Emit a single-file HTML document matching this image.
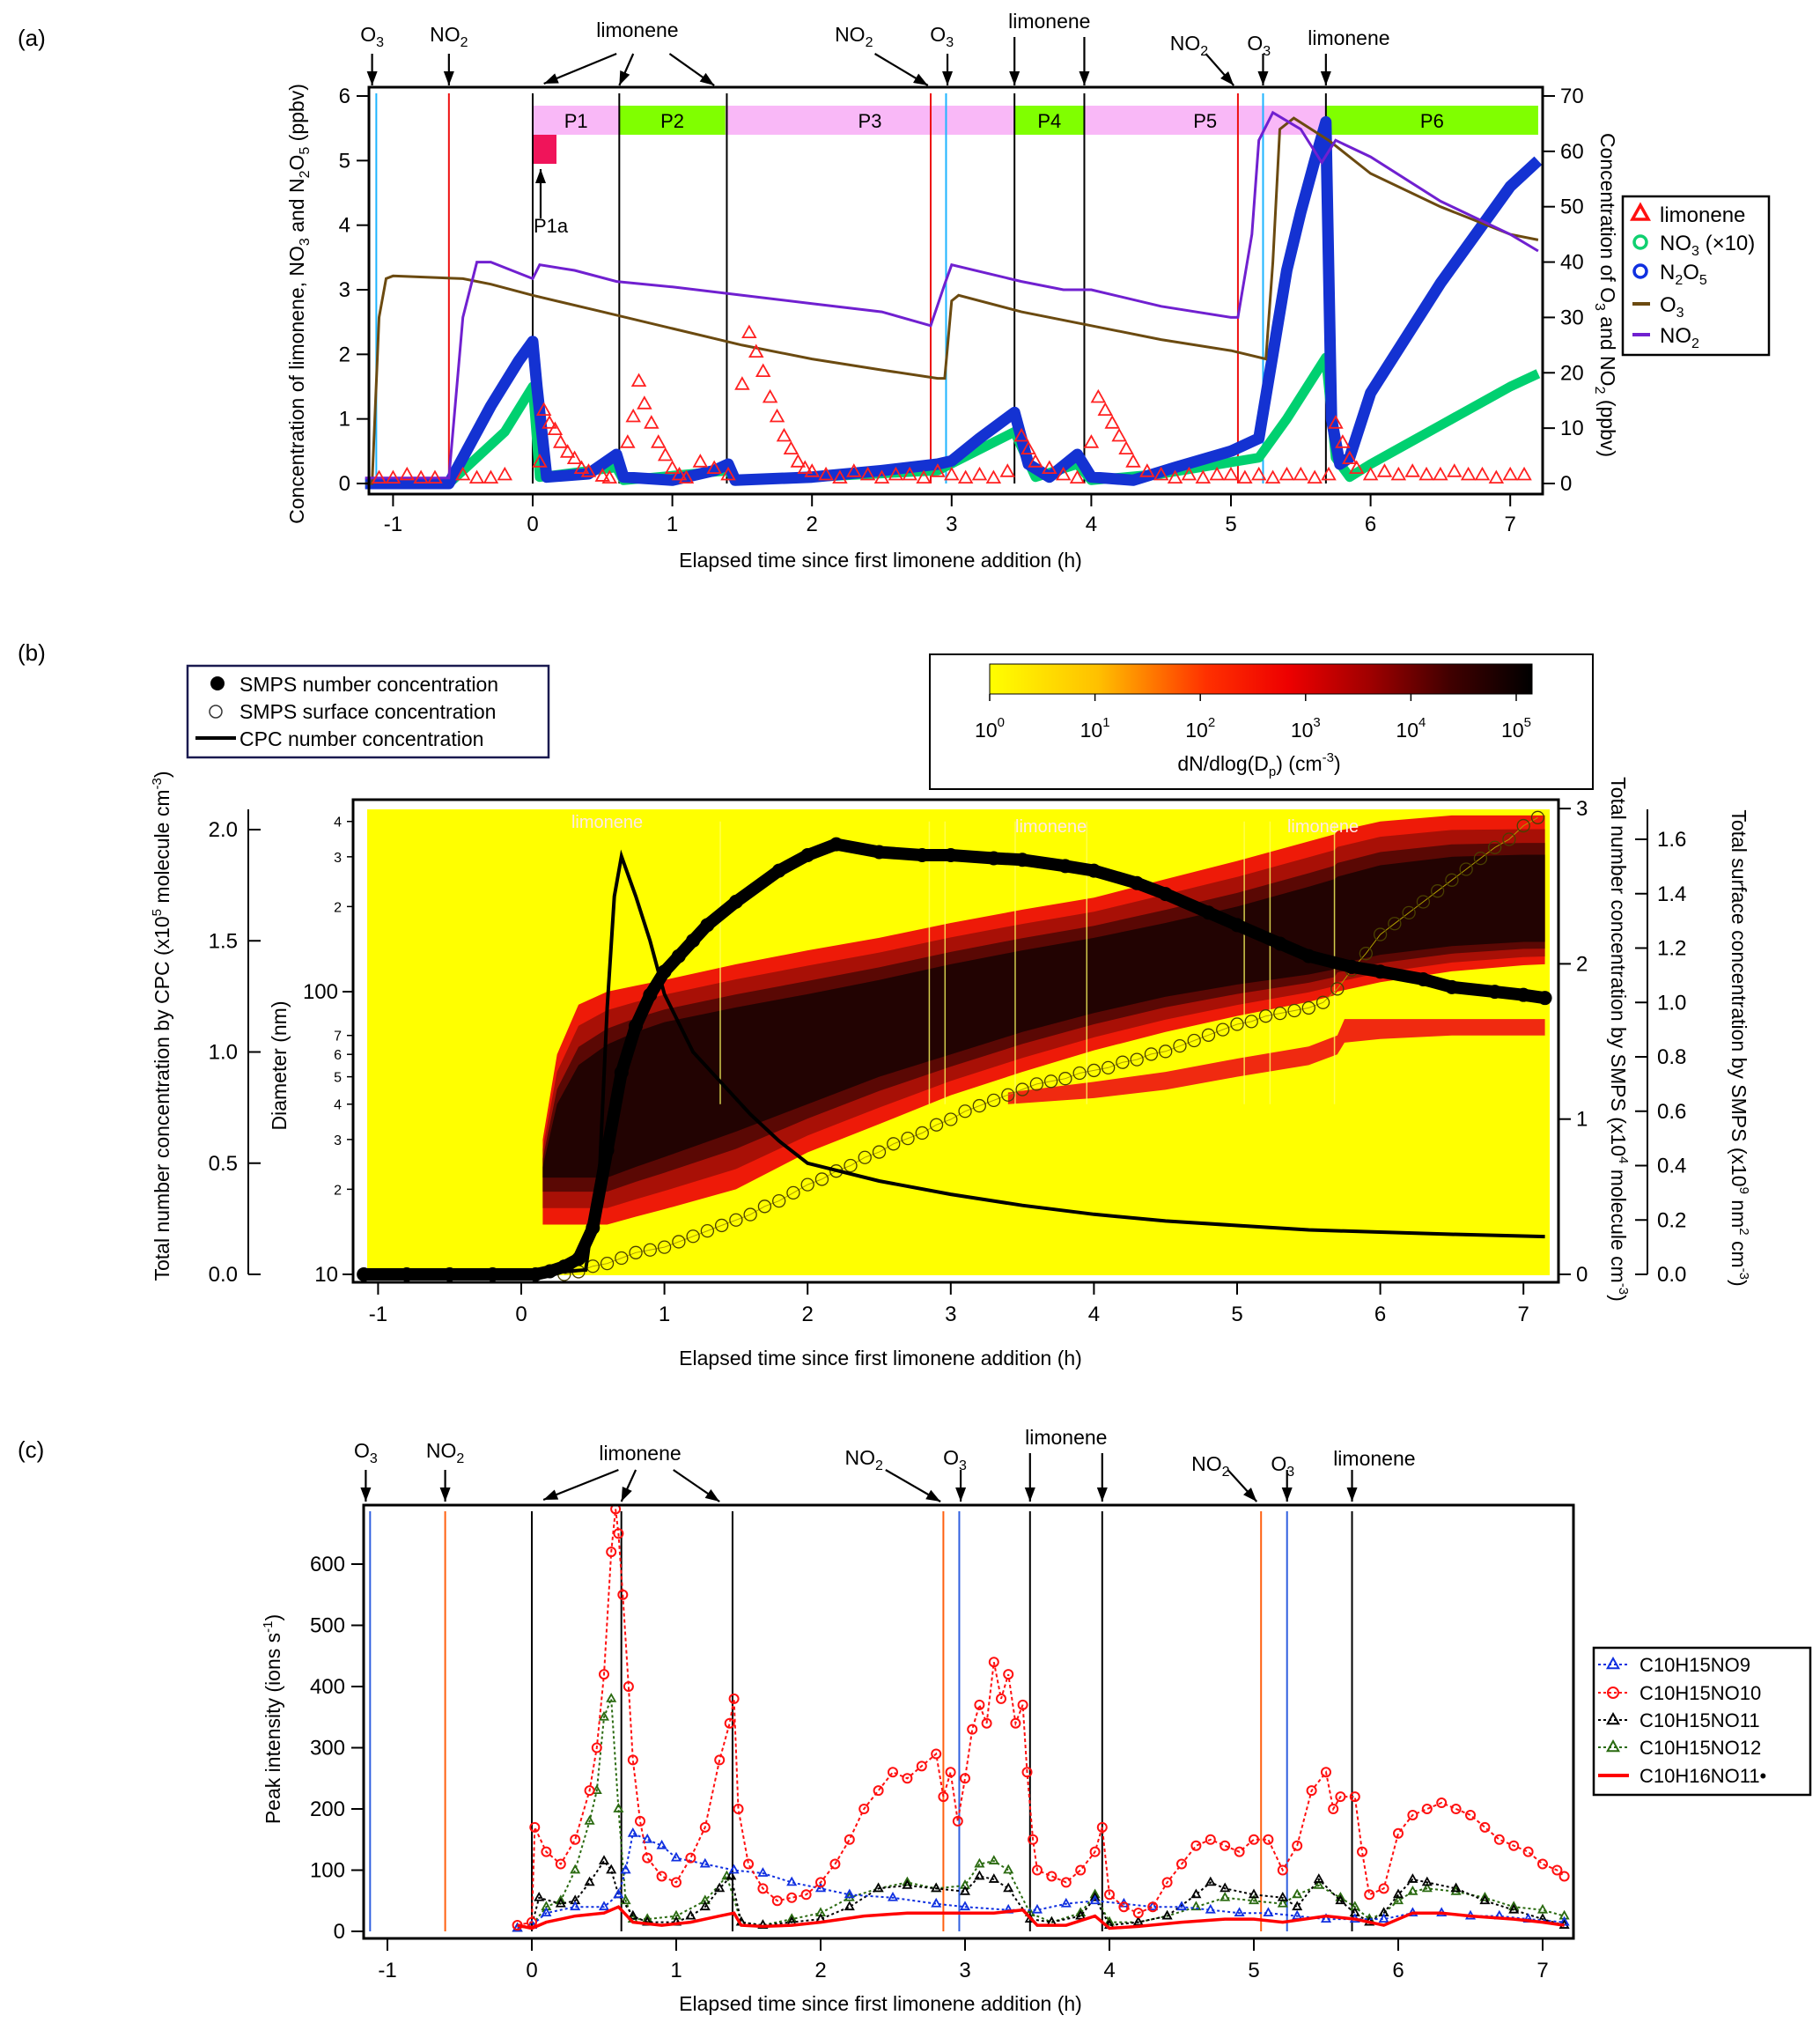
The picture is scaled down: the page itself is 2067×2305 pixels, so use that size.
<!DOCTYPE html>
<html><head><meta charset="utf-8"><style>
html,body{margin:0;padding:0;background:#fff}
svg{display:block;font-family:"Liberation Sans",sans-serif}
</style></head><body>
<svg id="fig" xmlns="http://www.w3.org/2000/svg" width="2067" height="2305" viewBox="0 0 2067 2305">
<rect x="0" y="0" width="2067" height="2305" fill="#fff"/>
<defs>
<linearGradient id="cbar" x1="0" x2="1" y1="0" y2="0">
<stop offset="0" stop-color="#ffff00"/><stop offset="0.2" stop-color="#ffc000"/><stop offset="0.4" stop-color="#ff3000"/><stop offset="0.55" stop-color="#ee0000"/><stop offset="0.7" stop-color="#a00000"/><stop offset="0.85" stop-color="#400000"/><stop offset="1" stop-color="#000"/>
</linearGradient>
</defs>
</svg>
<script>
// ---------- Panel (a) data ----------
const o3T=[-1.2,-1.15,-1.1,-1.05,-1,-0.5,-0.3,0,0.5,1,1.5,2,2.5,2.9,2.95,3.0,3.05,3.5,4,4.5,5,5.25,5.3,5.35,5.45,5.7,6,6.5,7,7.2];
const o3V=[0,0,30,37,37.5,37,36,34,31,28,25,22.5,20.5,19,19,33,34,31,28.5,26,24,22.5,40,64,66,62,56,50,45,44];
const no2T=[-1.2,-0.6,-0.5,-0.4,-0.3,-0.1,0,0.05,0.3,0.6,1,1.5,2,2.5,2.85,2.95,3.0,3.5,3.8,4,4.5,5.0,5.05,5.15,5.2,5.3,5.5,5.65,5.75,6,6.5,7,7.2];
const no2V=[1,1,30,40,40,38,37,39.5,38.5,36.5,35.5,34,32.5,31,28.5,36,39.5,36.5,35,35,32,30,30,45,62,67,64,58,62,59,51,45,42];
const n2o5T=[-1.2,-0.6,-0.5,-0.3,-0.1,0,0.03,0.1,0.4,0.6,0.65,1,1.3,1.4,1.45,2,2.5,2.9,3,3.2,3.45,3.55,3.7,3.9,4,4.3,4.6,5.0,5.2,5.3,5.4,5.5,5.6,5.68,5.72,5.78,5.85,6,6.5,7,7.2];
const n2o5V=[0,0,0.4,1.2,1.9,2.2,1.5,0.1,0.15,0.45,0.1,0.05,0.2,0.3,0.05,0.1,0.2,0.3,0.35,0.7,1.1,0.3,0.1,0.45,0.1,0.05,0.25,0.5,0.7,2.0,3.3,4.2,5.0,5.6,1.0,0.3,0.4,1.4,3.1,4.6,5.0];
const no3T=[-1.2,-0.6,-0.2,0,0.05,0.6,0.65,1.4,1.45,2,2.9,3.45,3.6,3.9,4.0,4.5,5.2,5.4,5.68,5.75,5.85,6,6.5,7,7.2];
const no3V=[0,0,0.8,1.5,0.1,0.25,0.05,0.2,0.05,0.1,0.2,0.8,0.1,0.3,0.05,0.15,0.4,1.0,1.95,0.4,0.1,0.3,0.9,1.5,1.7];
const limT=[-1.1,-1,-0.9,-0.8,-0.7,-0.5,-0.4,-0.3,-0.2,0.05,0.08,0.12,0.16,0.2,0.25,0.3,0.35,0.4,0.5,0.55,0.68,0.72,0.76,0.8,0.85,0.9,0.95,1.0,1.05,1.1,1.2,1.3,1.4,1.5,1.55,1.6,1.65,1.7,1.75,1.8,1.85,1.9,1.95,2.0,2.1,2.2,2.3,2.4,2.5,2.6,2.7,2.8,2.9,3.0,3.1,3.2,3.3,3.4,3.5,3.55,3.6,3.7,3.8,3.9,4.0,4.05,4.1,4.15,4.2,4.25,4.3,4.4,4.5,4.6,4.7,4.8,4.9,5.0,5.1,5.2,5.3,5.4,5.5,5.6,5.7,5.75,5.8,5.85,5.9,6.0,6.1,6.2,6.3,6.4,6.5,6.6,6.7,6.8,6.9,7.0,7.1];
const limV=[0.05,0.05,0.1,0.05,0.05,0.1,0.05,0.05,0.1,0.3,1.1,0.9,0.8,0.6,0.45,0.35,0.2,0.15,0.08,0.05,0.6,1.0,1.55,1.2,0.9,0.6,0.4,0.2,0.1,0.05,0.3,0.2,0.1,1.5,2.3,2.0,1.7,1.3,1.0,0.7,0.5,0.3,0.2,0.15,0.1,0.05,0.15,0.1,0.05,0.1,0.1,0.05,0.15,0.1,0.05,0.1,0.05,0.15,0.7,0.5,0.3,0.2,0.1,0.05,0.6,1.3,1.1,0.9,0.7,0.5,0.3,0.15,0.1,0.05,0.1,0.05,0.1,0.1,0.05,0.1,0.05,0.1,0.1,0.05,0.1,0.9,0.6,0.35,0.2,0.1,0.15,0.1,0.15,0.1,0.1,0.15,0.1,0.1,0.05,0.1,0.1];
const aXTicks=[-1,0,1,2,3,4,5,6,7];
const aLTicks=[0,1,2,3,4,5,6];
const aRTicks=[0,10,20,30,40,50,60,70];
const periodNames=['P1','P2','P3','P4','P5','P6'];
const periodStart=[0,0.62,1.38,3.45,3.95,5.68];
const periodEnd=[0.62,1.38,3.45,3.95,5.68,7.2];
const periodGreen=[0,1,0,1,0,1];

// ---------- Panel (b) data ----------
const hT=[0.15,0.25,0.4,0.6,0.8,1.0,1.5,2.0,2.5,3.0,3.5,4.0,4.5,5.0,5.5,5.68,5.7,6.0,6.5,7.0,7.15];
const hLow=[15,15,15,15,16,17,20,27,34,43,52,62,72,82,92,97,100,108,118,124,125];
const hHigh=[30,60,90,100,105,110,125,140,155,175,195,215,250,290,340,360,370,400,420,420,420];
const cLow=[22,22,22,22,24,26,32,40,50,60,72,84,96,106,115,120,125,135,145,150,150];
const cHigh=[24,40,55,65,72,78,88,98,110,125,140,155,175,200,235,250,255,280,300,305,305];
const sT=[3.4,4.0,4.5,5.0,5.5,5.7,5.75,6.0,6.5,7.0,7.15];
const sLow=[40,42,45,50,55,60,66,68,70,70,70];
const sHigh=[44,48,52,58,64,70,80,80,80,80,80];
const smpsT=[-1.1,-0.8,-0.5,-0.2,0.1,0.2,0.3,0.4,0.5,0.6,0.7,0.8,0.9,1.0,1.1,1.2,1.3,1.5,1.8,2.0,2.2,2.5,2.8,3.0,3.3,3.5,3.8,4.0,4.3,4.5,4.8,5.0,5.3,5.5,5.8,6.0,6.3,6.5,6.8,7.0,7.15];
const smpsV=[0,0,0,0,0,0.02,0.05,0.1,0.3,0.8,1.3,1.6,1.8,1.95,2.05,2.15,2.25,2.4,2.6,2.7,2.77,2.72,2.7,2.7,2.68,2.67,2.63,2.6,2.52,2.45,2.33,2.25,2.13,2.05,1.98,1.95,1.9,1.85,1.82,1.8,1.78];
const cpcT=[-1.1,0,0.45,0.55,0.6,0.65,0.7,0.8,0.9,1.0,1.2,1.4,1.6,1.8,2.0,2.5,3.0,3.5,4.0,4.5,5.0,5.5,6.0,6.5,7.15];
const cpcV=[0,0,0.02,0.5,1.2,1.7,1.88,1.7,1.5,1.26,1.0,0.86,0.72,0.6,0.5,0.42,0.36,0.31,0.27,0.24,0.22,0.2,0.19,0.18,0.17];
const surfT=[0.3,0.4,0.5,0.6,0.7,0.8,0.9,1.0,1.1,1.2,1.3,1.4,1.5,1.6,1.7,1.8,1.9,2.0,2.1,2.2,2.3,2.4,2.5,2.6,2.7,2.8,2.9,3.0,3.1,3.2,3.3,3.4,3.5,3.6,3.7,3.8,3.9,4.0,4.1,4.2,4.3,4.4,4.5,4.6,4.7,4.8,4.9,5.0,5.1,5.2,5.3,5.4,5.5,5.6,5.7,5.8,5.9,6.0,6.1,6.2,6.3,6.4,6.5,6.6,6.7,6.8,6.9,7.0,7.1];
const surfV=[0,0.01,0.03,0.04,0.06,0.08,0.09,0.1,0.12,0.14,0.16,0.18,0.2,0.22,0.25,0.27,0.3,0.33,0.35,0.38,0.4,0.43,0.45,0.48,0.5,0.52,0.55,0.57,0.6,0.62,0.64,0.66,0.68,0.7,0.71,0.72,0.74,0.75,0.76,0.78,0.79,0.81,0.82,0.84,0.86,0.88,0.9,0.92,0.93,0.95,0.96,0.97,0.98,1.0,1.05,1.12,1.18,1.25,1.29,1.33,1.37,1.41,1.45,1.49,1.53,1.57,1.6,1.65,1.68];
const bXTicks=[-1,0,1,2,3,4,5,6,7];
const cpcTicks=[0,0.5,1.0,1.5,2.0];
const smpsTicks=[0,1,2,3];
const surfTicks=[0,0.2,0.4,0.6,0.8,1.0,1.2,1.4,1.6];
const diamMajor=[10,100];
const diamMinor=[20,30,40,50,60,70,200,300,400];

// ---------- Panel (c) data ----------
const c10T=[-0.1,0,0.02,0.1,0.2,0.3,0.4,0.45,0.5,0.55,0.58,0.6,0.63,0.67,0.7,0.75,0.8,0.9,1.0,1.1,1.2,1.3,1.37,1.4,1.43,1.5,1.6,1.7,1.8,1.9,2.0,2.1,2.2,2.3,2.4,2.5,2.6,2.7,2.8,2.85,2.9,2.95,3.0,3.05,3.1,3.15,3.2,3.25,3.3,3.35,3.4,3.43,3.47,3.5,3.6,3.7,3.8,3.9,3.95,4.0,4.1,4.2,4.3,4.4,4.5,4.6,4.7,4.8,4.9,5.0,5.1,5.2,5.3,5.4,5.5,5.55,5.6,5.7,5.75,5.8,5.9,6.0,6.1,6.2,6.3,6.4,6.5,6.6,6.7,6.8,6.9,7.0,7.1,7.15];
const c10V=[10,15,170,130,110,150,230,300,420,620,690,650,550,400,280,180,120,90,80,120,170,280,340,380,200,110,70,50,55,60,80,110,150,200,230,260,250,270,290,220,260,180,250,330,370,340,440,380,420,340,370,260,150,100,90,80,100,130,170,60,40,30,40,80,110,140,150,140,130,150,150,100,140,230,260,200,220,220,130,60,70,160,190,200,210,200,190,170,150,140,130,110,100,90];
const c9T=[-0.1,0,0.1,0.3,0.5,0.6,0.65,0.7,0.8,0.9,1.0,1.2,1.4,1.6,1.8,2.0,2.2,2.5,2.8,3.0,3.3,3.5,3.7,3.9,4.1,4.3,4.5,4.7,4.9,5.1,5.3,5.5,5.7,5.9,6.1,6.3,6.5,6.7,6.9,7.15];
const c9V=[5,10,30,40,40,60,100,160,150,140,120,110,100,95,80,70,60,55,45,40,35,35,45,50,45,40,40,35,30,30,25,20,20,20,30,30,25,25,20,15];
const c11T=[-0.1,0,0.05,0.2,0.3,0.4,0.5,0.55,0.6,0.7,0.8,1.0,1.1,1.2,1.3,1.38,1.45,1.6,1.8,2.0,2.2,2.4,2.6,2.8,3.0,3.1,3.2,3.3,3.45,3.6,3.8,3.9,4.0,4.2,4.4,4.6,4.7,4.8,5.0,5.2,5.3,5.45,5.6,5.7,5.8,5.9,6.0,6.1,6.2,6.4,6.6,6.8,7.0,7.15];
const c11V=[5,10,55,45,50,80,115,100,60,25,15,15,25,40,70,90,15,10,15,20,40,70,75,70,65,90,85,70,20,15,25,55,10,15,25,60,80,70,60,55,40,85,50,30,15,30,60,85,80,70,50,35,20,10];
const c12T=[-0.1,0,0.1,0.2,0.3,0.4,0.45,0.5,0.55,0.6,0.65,0.7,0.8,1.0,1.2,1.35,1.45,1.6,1.8,2.0,2.2,2.4,2.6,2.8,3.0,3.1,3.2,3.3,3.45,3.6,3.8,3.9,4.0,4.2,4.4,4.6,4.8,5.0,5.2,5.3,5.45,5.6,5.7,5.8,5.9,6.0,6.1,6.2,6.4,6.6,6.8,7.0,7.15];
const c12V=[5,10,40,50,100,180,230,350,380,200,50,20,20,25,50,90,15,10,20,30,55,70,80,70,75,110,115,100,30,15,30,60,15,15,25,40,55,50,45,60,75,55,40,20,30,50,65,70,65,55,40,35,25];
const c16T=[-0.1,0,0.1,0.3,0.5,0.6,0.7,0.9,1.1,1.3,1.4,1.45,1.6,1.8,2.0,2.3,2.6,2.9,3.2,3.4,3.5,3.7,3.9,4.0,4.2,4.5,4.8,5.0,5.2,5.5,5.7,5.9,6.1,6.3,6.5,6.8,7.0,7.15];
const c16V=[10,5,15,25,30,40,15,10,15,25,30,10,8,10,15,25,30,30,30,35,10,10,25,5,8,15,20,20,15,25,20,10,30,30,25,20,15,10];
const cXTicks=[-1,0,1,2,3,4,5,6,7];
const cYTicks=[0,100,200,300,400,500,600];

// event lines
const evT=[-1.12,-0.6,0,0.62,1.39,2.85,2.96,3.45,3.95,5.05,5.23,5.68];
const evKind=['o3','no2','lim','lim','lim','no2','o3','lim','lim','no2','o3','lim'];

// ---------- helpers ----------
const NS='http://www.w3.org/2000/svg';
const svg=document.getElementById('fig');
function mk(tag,attrs,parent){const e=document.createElementNS(NS,tag);for(const k in attrs)e.setAttribute(k,attrs[k]);(parent||svg).appendChild(e);return e;}
function grp(name){const g=document.createElementNS(NS,'g');


svg.appendChild(g);return g;}
function txt(g,x,y,s,size,anchor,extra){const t=mk('text',Object.assign({x:x,y:y,'font-size':size,'text-anchor':anchor||'middle',fill:'#000'},extra||{}),g);t.innerHTML=s;return t;}
function pts(T,V,fx,fy){return T.map((t,i)=>fx(t).toFixed(1)+','+fy(V[i]).toFixed(1)).join(' ');}
function arrow(g,x1,y1,x2,y2){mk('line',{x1:x1,y1:y1,x2:x2,y2:y2,stroke:'#000','stroke-width':2.2},g);
const a=Math.atan2(y2-y1,x2-x1),L=16,W=6;
const p=[[x2,y2],[x2-L*Math.cos(a)+W*Math.sin(a),y2-L*Math.sin(a)-W*Math.cos(a)],[x2-L*Math.cos(a)-W*Math.sin(a),y2-L*Math.sin(a)+W*Math.cos(a)]];
mk('polygon',{points:p.map(q=>q.join(',')).join(' '),fill:'#000'},g);}
function tri(g,x,y,r,col,sw){mk('polygon',{points:`${x},${y-r} ${x+r*0.9},${y+r*0.6} ${x-r*0.9},${y+r*0.6}`,fill:'none',stroke:col,'stroke-width':sw||2},g);}

// ========== PANEL A ==========
const xa=t=>605+158.6*t, yaL=v=>549-73.33*v, yaR=v=>549-6.286*v;
txt(grp('panel-a-label'),20,52,'(a)',26,'start');
{
const g=grp('panel-a-periods');
periodNames.forEach((n,i)=>{
 const r=mk('rect',{x:xa(periodStart[i]),y:120,width:xa(periodEnd[i])-xa(periodStart[i]),height:33,fill:periodGreen[i]?'#80ff00':'#f9b8f7'},g);
 
 
 txt(g,(xa(periodStart[i])+xa(periodEnd[i]))/2,145,n,22);
});
const p=mk('rect',{x:605,y:153,width:27,height:33,fill:'#f0145a'},g);


arrow(g,614,248,614,192);
txt(g,606,264,'P1a',22,'start');
}
{
const g=grp('panel-a-event-lines');
evT.forEach((t,i)=>{const c=evKind[i]=='o3'?'#1eb4ff':evKind[i]=='no2'?'#ee1010':'#000';
 const l=mk('line',{x1:xa(t),x2:xa(t),y1:106,y2:549,stroke:c,'stroke-width':2},g);
 
 });
}
{
const g=grp('panel-a-series');
const n3=mk('polyline',{points:pts(no3T,no3V,xa,yaL),fill:'none',stroke:'#00d070','stroke-width':11,'stroke-linejoin':'round'},g);


const n5=mk('polyline',{points:pts(n2o5T,n2o5V,xa,yaL),fill:'none',stroke:'#1432d2','stroke-width':13,'stroke-linejoin':'round'},g);


const o=mk('polyline',{points:pts(o3T,o3V,xa,yaR),fill:'none',stroke:'#6b4a10','stroke-width':3},g);


const n=mk('polyline',{points:pts(no2T,no2V,xa,yaR),fill:'none',stroke:'#7020d0','stroke-width':3},g);


limT.forEach((t,i)=>{tri(g,xa(t),yaL(limV[i])-2,8,'#ff2020',1.8);});
}
{
const g=grp('panel-a-axes');
mk('rect',{x:419,y:99,width:1333,height:462,fill:'none',stroke:'#000','stroke-width':3},g);
aXTicks.forEach(v=>{mk('line',{x1:xa(v),x2:xa(v),y1:561,y2:575,stroke:'#000','stroke-width':2},g);txt(g,xa(v),603,v,24);});
aLTicks.forEach(v=>{mk('line',{x1:405,x2:419,y1:yaL(v),y2:yaL(v),stroke:'#000','stroke-width':2},g);txt(g,398,yaL(v)+8,v,24,'end');});
aRTicks.forEach(v=>{mk('line',{x1:1752,x2:1766,y1:yaR(v),y2:yaR(v),stroke:'#000','stroke-width':2},g);txt(g,1772,yaR(v)+8,v,24,'start');});
txt(g,1000,644,'Elapsed time since first limonene addition (h)',23);
txt(g,0,0,'Concentration of limonene, NO<tspan font-size="16" dy="6">3</tspan><tspan dy="-6"> and N</tspan><tspan font-size="16" dy="6">2</tspan><tspan dy="-6">O</tspan><tspan font-size="16" dy="6">5</tspan><tspan dy="-6"> (ppbv)</tspan>',23,'middle',{transform:'translate(345,345) rotate(-90)'});
txt(g,0,0,'Concentration of O<tspan font-size="16" dy="6">3</tspan><tspan dy="-6"> and NO</tspan><tspan font-size="16" dy="6">2</tspan><tspan dy="-6"> (ppbv)</tspan>',23,'middle',{transform:'translate(1818,335) rotate(90)'});
}
function annotations(g,fx,yTip,dy){
 const s='<tspan font-size="16" dy="6">';
 const O3='O'+s+'3</tspan>', NO2='NO'+s+'2</tspan>';
 arrow(g,fx(-1.15),yTip-36,fx(-1.15),yTip); txt(g,fx(-1.15),yTip-50+dy[0],O3,23);
 arrow(g,fx(-0.6),yTip-36,fx(-0.6),yTip); txt(g,fx(-0.6),yTip-50+dy[0],NO2,23);
 arrow(g,fx(0.6),yTip-36,fx(0.08),yTip-2); arrow(g,fx(0.72),yTip-36,fx(0.62),yTip); arrow(g,fx(0.98),yTip-36,fx(1.3),yTip);
 txt(g,fx(0.75),yTip-55+dy[1],'limonene',23);
 arrow(g,fx(2.45),yTip-36,fx(2.83),yTip); txt(g,fx(2.3),yTip-50+dy[2],NO2,23);
 arrow(g,fx(2.97),yTip-36,fx(2.97),yTip); txt(g,fx(2.93),yTip-50+dy[2],O3,23);
 arrow(g,fx(3.45),yTip-55+dy[3],fx(3.45),yTip); arrow(g,fx(3.95),yTip-55+dy[3],fx(3.95),yTip);
 txt(g,fx(3.7),yTip-65+dy[3],'limonene',23);
 arrow(g,fx(4.82),yTip-36,fx(5.02),yTip); txt(g,fx(4.7),yTip-40+dy[4],NO2,23);
 arrow(g,fx(5.23),yTip-36,fx(5.23),yTip); txt(g,fx(5.2),yTip-40+dy[4],O3,23);
 arrow(g,fx(5.68),yTip-36,fx(5.68),yTip); txt(g,fx(5.8),yTip-46+dy[4],'limonene',23,'start',{x:fx(5.55)});
}
annotations(grp('panel-a-annotations'),xa,97,[0,0,0,0,0]);
{
const g=grp('panel-a-legend');
mk('rect',{x:1843,y:223,width:166,height:180,fill:'#fff',stroke:'#000','stroke-width':2.5},g);
const yy=[243,275,308,345,380];
const lab=['limonene','NO<tspan font-size="16" dy="6">3</tspan><tspan dy="-6"> (×10)</tspan>','N<tspan font-size="16" dy="6">2</tspan><tspan dy="-6">O</tspan><tspan font-size="16" dy="6">5</tspan>','O<tspan font-size="16" dy="6">3</tspan>','NO<tspan font-size="16" dy="6">2</tspan>'];
tri(g,1863,yy[0],10,'#ff1010',3.5);
mk('circle',{cx:1863,cy:yy[1],r:7,fill:'none',stroke:'#10d070','stroke-width':3.5},g);
mk('circle',{cx:1863,cy:yy[2],r:7,fill:'none',stroke:'#1030e0','stroke-width':3.5},g);
mk('line',{x1:1854,x2:1874,y1:yy[3],y2:yy[3],stroke:'#6b4a10','stroke-width':4},g);
mk('line',{x1:1854,x2:1874,y1:yy[4],y2:yy[4],stroke:'#7020d0','stroke-width':4},g);
lab.forEach((l,i)=>{const t=txt(g,1885,yy[i]+9,l,24,'start');
 
 });
}

// ========== PANEL B ==========
const xb=t=>592+162.6*t, yD=d=>1447-321*Math.log10(d/10), yCPC=v=>1447-252.5*v, ySMPS=v=>1447-176.3*v, ySurf=v=>1447-308.75*v;
txt(grp('panel-b-label'),20,750,'(b)',26,'start');
{
const g=grp('heatmap');
const bg=mk('rect',{x:417,y:919,width:1343,height:529,fill:'#ffff00'},g);


function band(T,L,H,fill,name){const up=T.map((t,i)=>xb(t)+','+yD(H[i])).join(' ');const dn=T.slice().reverse().map((t,i)=>xb(t)+','+yD(L[L.length-1-i])).join(' ');
 const p=mk('polygon',{points:up+' '+dn,fill:fill},g);
 
 }
band(hT,hLow,hHigh,'#ee1a08','heatmap-band-outer');
const mid=hLow.map((v,i)=>Math.pow(v,0.65)*Math.pow(cLow[i],0.35)), midH=hHigh.map((v,i)=>Math.pow(v,0.65)*Math.pow(cHigh[i],0.35));
band(hT,mid,midH,'#a81006','heatmap-band-middle');
const mid2=hLow.map((v,i)=>Math.pow(v,0.3)*Math.pow(cLow[i],0.7)), mid2H=hHigh.map((v,i)=>Math.pow(v,0.3)*Math.pow(cHigh[i],0.7));
band(hT,mid2,mid2H,'#5a0804','heatmap-band-inner');
band(hT,cLow,cHigh,'#220302','heatmap-band-core');
band(sT,sLow,sHigh,'#f02a10','heatmap-secondary-band');
evT.forEach((t,i)=>{if(t>1.3){mk('line',{x1:xb(t),x2:xb(t),y1:yD(400),y2:yD(40),stroke:'#ffff60','stroke-width':1.5,opacity:0.8},g);}});
txt(g,xb(0.6),940,'limonene',20,'middle',{fill:'#ffe8e8'});
txt(g,xb(3.7),945,'limonene',20,'middle',{fill:'#ffe8e8'});
txt(g,xb(5.6),945,'limonene',20,'middle',{fill:'#ffe8e8'});
}
{
const g=grp('panel-b-series');
const s=mk('polyline',{points:pts(surfT,surfV,xb,ySurf),fill:'none',stroke:'#b0a000','stroke-width':1},g);


surfT.forEach((t,i)=>{mk('circle',{cx:xb(t),cy:ySurf(surfV[i]),r:7,fill:'none',stroke:'#4a4000','stroke-width':1.3},g);});
const c=mk('polyline',{points:pts(cpcT,cpcV,xb,yCPC),fill:'none',stroke:'#000','stroke-width':4},g);


const n=mk('polyline',{points:pts(smpsT,smpsV,xb,ySMPS),fill:'none',stroke:'#000','stroke-width':14,'stroke-linejoin':'round'},g);


smpsT.forEach((t,i)=>{mk('circle',{cx:xb(t),cy:ySMPS(smpsV[i]),r:8,fill:'#000'},g);});
}
{
const g=grp('panel-b-axes');
mk('rect',{x:401,y:908,width:1369,height:548,fill:'none',stroke:'#000','stroke-width':3},g);
bXTicks.forEach(v=>{mk('line',{x1:xb(v),x2:xb(v),y1:1456,y2:1470,stroke:'#000','stroke-width':2},g);txt(g,xb(v),1500,v,24);});
diamMajor.forEach(v=>{mk('line',{x1:389,x2:401,y1:yD(v),y2:yD(v),stroke:'#000','stroke-width':2},g);txt(g,384,yD(v)+8,v,24,'end');});
diamMinor.forEach(v=>{mk('line',{x1:394,x2:401,y1:yD(v),y2:yD(v),stroke:'#000','stroke-width':1.5},g);const lab=v>=100?v/100:v/10;txt(g,388,yD(v)+6,lab,16,'end');});
mk('line',{x1:282,x2:282,y1:919,y2:1447,stroke:'#000','stroke-width':2},g);
cpcTicks.forEach(v=>{mk('line',{x1:282,x2:296,y1:yCPC(v),y2:yCPC(v),stroke:'#000','stroke-width':2},g);txt(g,270,yCPC(v)+8,v.toFixed(1),24,'end');});
smpsTicks.forEach(v=>{mk('line',{x1:1770,x2:1784,y1:ySMPS(v),y2:ySMPS(v),stroke:'#000','stroke-width':2},g);txt(g,1790,ySMPS(v)+8,v,24,'start');});
mk('line',{x1:1871,x2:1871,y1:919,y2:1447,stroke:'#000','stroke-width':2},g);
surfTicks.forEach(v=>{mk('line',{x1:1857,x2:1871,y1:ySurf(v),y2:ySurf(v),stroke:'#000','stroke-width':2},g);txt(g,1882,ySurf(v)+8,v.toFixed(1),24,'start');});
txt(g,1000,1550,'Elapsed time since first limonene addition (h)',23);
txt(g,0,0,'Total number concentration by CPC (x10<tspan font-size="15" dy="-9">5</tspan><tspan dy="9">  molecule cm</tspan><tspan font-size="15" dy="-9">-3</tspan><tspan dy="9">)</tspan>',23,'middle',{transform:'translate(192,1165) rotate(-90)'});
txt(g,0,0,'Diameter (nm)',23,'middle',{transform:'translate(325,1210) rotate(-90)'});
txt(g,0,0,'Total number concentration by SMPS (x10<tspan font-size="15" dy="-9">4</tspan><tspan dy="9">  molecule cm</tspan><tspan font-size="15" dy="-9">-3</tspan><tspan dy="9">)</tspan>',23,'middle',{transform:'translate(1830,1180) rotate(90)'});
txt(g,0,0,'Total surface concentration by SMPS (x10<tspan font-size="15" dy="-9">9</tspan><tspan dy="9"> nm</tspan><tspan font-size="15" dy="-9">2</tspan><tspan dy="9"> cm</tspan><tspan font-size="15" dy="-9">-3</tspan><tspan dy="9">)</tspan>',23,'middle',{transform:'translate(1967,1190) rotate(90)'});
}
{
const g=grp('panel-b-legend');
mk('rect',{x:213,y:756,width:410,height:104,fill:'#fff',stroke:'#1a1a50','stroke-width':2.5},g);
mk('circle',{cx:247,cy:776,r:8,fill:'#000'},g);
mk('circle',{cx:245,cy:808,r:7,fill:'none',stroke:'#333','stroke-width':1.5},g);
mk('line',{x1:222,x2:268,y1:838,y2:838,stroke:'#000','stroke-width':4},g);
['SMPS number concentration','SMPS surface concentration','CPC number concentration'].forEach((s,i)=>{const t=txt(g,272,[785,816,847][i],s,23,'start');
 
 });
}
{
const g=grp('colorbar');
mk('rect',{x:1056,y:743,width:753,height:153,fill:'#fff',stroke:'#000','stroke-width':2},g);
mk('rect',{x:1124,y:754,width:616,height:34,fill:'url(#cbar)',stroke:'#000','stroke-width':1},g);
[0,1,2,3,4,5].forEach(k=>{const x=1124+k*119.6;mk('line',{x1:x,x2:x,y1:788,y2:796,stroke:'#000','stroke-width':1.5},g);
 txt(g,x,837,'10<tspan font-size="15" dy="-12">'+k+'</tspan>',23);});
txt(g,1430,875,'dN/dlog(D<tspan font-size="15" dy="6">p</tspan><tspan dy="-6">)  (cm</tspan><tspan font-size="15" dy="-10">-3</tspan><tspan dy="10">)</tspan>',23);
}

// ========== PANEL C ==========
const xc=t=>604+164*t, yc=v=>2193-0.695*v;
txt(grp('panel-c-label'),20,1655,'(c)',26,'start');
{
const g=grp('panel-c-event-lines');
evT.forEach((t,i)=>{const c=evKind[i]=='o3'?'#3060e0':evKind[i]=='no2'?'#ff6010':'#000';
 const l=mk('line',{x1:xc(t),x2:xc(t),y1:1716,y2:2193,stroke:c,'stroke-width':2},g);
 
 });
}
annotations(grp('panel-c-annotations'),xc,1705,[0,8,8,0,5]);
{
const g=grp('panel-c-series');
function ser(T,V,col,dash,name,marker){
 const p=mk('polyline',{points:pts(T,V,xc,yc),fill:'none',stroke:col,'stroke-width':2,'stroke-dasharray':dash},g);
 
 
 if(marker==='c')T.forEach((t,i)=>mk('circle',{cx:xc(t),cy:yc(V[i]),r:5,fill:'none',stroke:col,'stroke-width':2},g));
 if(marker==='t')T.forEach((t,i)=>tri(g,xc(t),yc(V[i]),5,col,1.8));
}
ser(c12T,c12V,'#2a6a10','3,3','c10h15no12-series','t');
ser(c11T,c11V,'#000','3,3','c10h15no11-series','t');
ser(c9T,c9V,'#1030e0','3,3','c10h15no9-series','t');
ser(c10T,c10V,'#ff1010','4,3','c10h15no10-series','c');
const r=mk('polyline',{points:pts(c16T,c16V,xc,yc),fill:'none',stroke:'#ff0000','stroke-width':3.5},g);


}
{
const g=grp('panel-c-axes');
mk('rect',{x:413,y:1709,width:1374,height:492,fill:'none',stroke:'#000','stroke-width':3},g);
cXTicks.forEach(v=>{mk('line',{x1:xc(v),x2:xc(v),y1:2201,y2:2215,stroke:'#000','stroke-width':2},g);txt(g,xc(v),2245,v,24);});
cYTicks.forEach(v=>{mk('line',{x1:399,x2:413,y1:yc(v),y2:yc(v),stroke:'#000','stroke-width':2},g);txt(g,392,yc(v)+8,v,24,'end');});
txt(g,1000,2283,'Elapsed time since first limonene addition (h)',23);
txt(g,0,0,'Peak intensity (ions s<tspan font-size="15" dy="-9">-1</tspan><tspan dy="9">)</tspan>',23,'middle',{transform:'translate(318,1952) rotate(-90)'});
}
{
const g=grp('panel-c-legend');
mk('rect',{x:1810,y:1871,width:246,height:167,fill:'#fff',stroke:'#000','stroke-width':2.5},g);
const yy=[1890,1922,1953,1984,2016];
const cols=['#1030e0','#ff1010','#000','#2a6a10','#ff0000'];
const labs=['C10H15NO9','C10H15NO10','C10H15NO11','C10H15NO12','C10H16NO11•'];
yy.forEach((y,i)=>{
 if(i<4){mk('line',{x1:1815,x2:1850,y1:y,y2:y,stroke:cols[i],'stroke-width':2,'stroke-dasharray':'3,3'},g);
  if(i==1)mk('circle',{cx:1832,cy:y,r:6,fill:'none',stroke:cols[i],'stroke-width':2},g);else tri(g,1832,y,7,cols[i],2);}
 else mk('line',{x1:1815,x2:1850,y1:y,y2:y,stroke:cols[i],'stroke-width':4},g);
 const t=txt(g,1862,y+8,labs[i],22,'start');
 
 
});
}
</script>
</body></html>
